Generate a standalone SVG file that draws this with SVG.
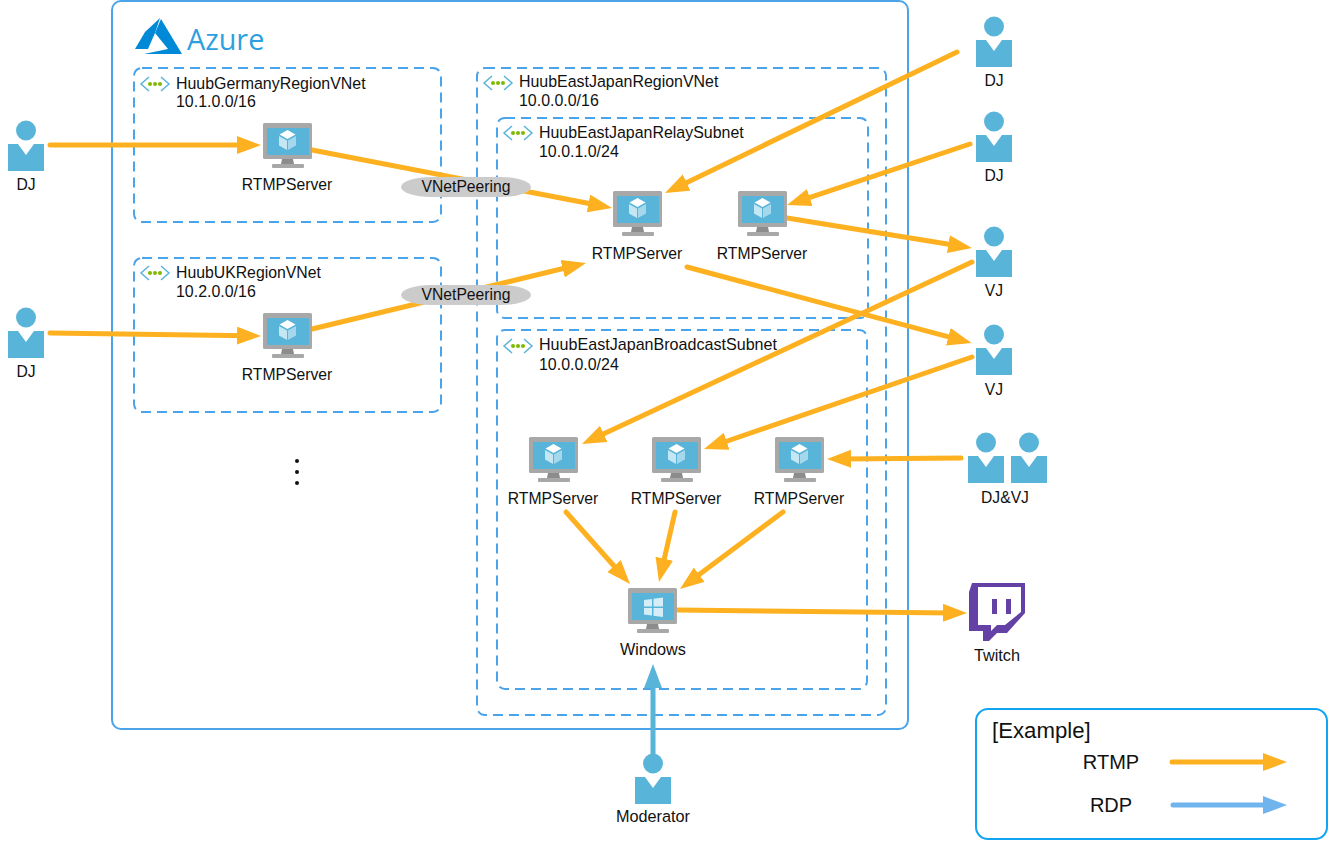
<svg xmlns="http://www.w3.org/2000/svg" width="1328" height="842" viewBox="0 0 1328 842">
<style>
text{font-family:"Liberation Sans",Arial,sans-serif;font-size:15.7px;fill:#111}
.c{text-anchor:middle}
.v{font-size:15.95px}
.w{font-size:16.25px}
.box{fill:none;stroke:#4ba3ea;stroke-width:2}
.dash{fill:none;stroke:#4ba3ea;stroke-width:2;stroke-dasharray:10 6}
.r{fill:none;stroke:#feb120;stroke-width:5;stroke-linecap:round}
.b{fill:none;stroke:#59b4d9;stroke-width:5;stroke-linecap:round}
.peer{fill:#cbcbcb}
</style>
<defs>
<marker id="ao" markerUnits="userSpaceOnUse" markerWidth="26" markerHeight="20" refX="10" refY="9" orient="auto"><path d="M0 0L24 9L0 18Z" fill="#feb120"/></marker>
<marker id="ab" markerUnits="userSpaceOnUse" markerWidth="26" markerHeight="20" refX="10" refY="9" orient="auto"><path d="M0 0L24 9L0 18Z" fill="#59b4d9"/></marker>
<marker id="al" markerUnits="userSpaceOnUse" markerWidth="26" markerHeight="20" refX="10" refY="9" orient="auto"><path d="M0 0L24 9L0 18Z" fill="#70b4ee"/></marker>
<g id="mon">
<rect x="0" y="0" width="49" height="36" rx="1.5" fill="#a8a8a8"/>
<rect x="4" y="5" width="42" height="27" fill="#59b4d9"/>
<path d="M19 36H30L31 41H18Z" fill="#8c8c8c"/>
<rect x="9" y="41" width="32" height="4" rx="1" fill="#a8a8a8"/>
</g>
<g id="cube">
<path d="M24.500 7L32.500 11.500L24.500 16L16.500 11.500Z" fill="#fff"/>
<path d="M16 13L24 17.500V27L16 22.500Z" fill="#c5e6f3"/>
<path d="M33 13L25 17.500V27L33 22.500Z" fill="#a5d8ec"/>
</g>
<g id="vm"><use href="#mon"/><use href="#cube"/></g>
<g id="person">
<circle cx="18" cy="9.500" r="10" fill="#59b4d9"/>
<path d="M0 23H10L18 34L26 23H36V50H0Z" fill="#59b4d9"/>
</g>
<g id="vnet">
<path d="M9 1L1 8L9 15M21 1L29 8L21 15" fill="none" stroke="#59b4d9" stroke-width="1.500"/>
<circle cx="10" cy="8" r="2" fill="#7fba00"/><circle cx="15" cy="8" r="2" fill="#7fba00"/><circle cx="20" cy="8" r="2" fill="#7fba00"/>
</g>
</defs>

<g id="azure">
<rect class="box" x="112" y="1" width="796" height="728" rx="9"/>
<path d="M160 18L145 32L135 49H148L155 33Z" fill="#0089d6"/>
<path d="M161 19L182 54H144L168 49L155 33Z" fill="#0089d6"/>
<text x="187" y="50" style="font-family:'Open Sans',sans-serif;font-size:28.800px;fill:#2d9fe0">Azure</text>
</g>

<g id="vnet-germany">
<rect class="dash" x="134" y="68" width="307" height="154" rx="8"/>
<use href="#vnet" x="140" y="76"/>
<text class="v" x="176" y="89">HuubGermanyRegionVNet</text><text class="v" x="176" y="107">10.1.0.0/16</text>
</g>
<g id="vnet-uk">
<rect class="dash" x="134" y="258" width="307" height="154" rx="8"/>
<use href="#vnet" x="140" y="265"/>
<text x="176" y="278" style="font-size:15.8px">HuubUKRegionVNet</text><text class="v" x="176" y="297">10.2.0.0/16</text>
</g>
<g id="vnet-eastjapan">
<rect class="dash" x="477" y="68" width="409" height="647" rx="8"/>
<use href="#vnet" x="483" y="75"/>
<text class="v" x="519" y="87">HuubEastJapanRegionVNet</text><text class="v" x="519" y="106">10.0.0.0/16</text>
</g>
<g id="subnet-relay">
<rect class="dash" x="497" y="118" width="371" height="200" rx="8"/>
<use href="#vnet" x="503" y="125"/>
<text class="v" x="539" y="138">HuubEastJapanRelaySubnet</text><text class="v" x="539" y="157">10.0.1.0/24</text>
</g>
<g id="subnet-broadcast">
<rect class="dash" x="497" y="330" width="370" height="359" rx="8"/>
<use href="#vnet" x="503" y="338"/>
<text x="539" y="350" style="font-size:16.1px">HuubEastJapanBroadcastSubnet</text><text class="v" x="539" y="370">10.0.0.0/24</text>
</g>

<g id="connectors">
<path class="r" marker-end="url(#ao)" d="M50 145H247"/>
<path class="r" marker-end="url(#ao)" d="M312 150L598.300 205.300"/>
<path class="r" marker-end="url(#ao)" d="M50 333L247 335.800"/>
<path class="r" marker-end="url(#ao)" d="M312 329L572.400 266.300"/>
<path class="r" marker-end="url(#ao)" d="M957 52L677.600 186.900"/>
<path class="r" marker-end="url(#ao)" d="M970 144L800.300 200.600"/>
<path class="r" marker-end="url(#ao)" d="M787 218L958.200 245.800"/>
<path class="r" marker-end="url(#ao)" d="M687 267L958 339.400"/>
<path class="r" marker-end="url(#ao)" d="M972 262L594.700 438.100"/>
<path class="r" marker-end="url(#ao)" d="M972 357L717.200 444.500"/>
<path class="r" marker-end="url(#ao)" d="M961 458L841 458.900"/>
<path class="r" marker-end="url(#ao)" d="M566 512L620.700 573.500"/>
<path class="r" marker-end="url(#ao)" d="M675 512L662.100 568.400"/>
<path class="r" marker-end="url(#ao)" d="M783 512L691.200 580.600"/>
<path class="r" marker-end="url(#ao)" d="M678 610L953 612.900"/>
<path class="b" marker-end="url(#ab)" d="M653 756V678"/>
</g>

<g id="peering-1"><rect class="peer" x="401" y="177" width="130" height="20" rx="30" ry="10"/><text class="c" x="466" y="192">VNetPeering</text></g>
<g id="peering-2"><rect class="peer" x="401" y="285" width="130" height="20" rx="30" ry="10"/><text class="c" x="466" y="300">VNetPeering</text></g>

<g id="dj-1"><use href="#person" x="8" y="121"/><text class="c" x="26" y="190">DJ</text></g>
<g id="dj-2"><use href="#person" x="8" y="308"/><text class="c" x="26" y="377">DJ</text></g>
<g id="dj-3"><use href="#person" x="976" y="17"/><text class="c" x="994" y="86">DJ</text></g>
<g id="dj-4"><use href="#person" x="976" y="112"/><text class="c" x="994" y="181">DJ</text></g>
<g id="vj-1"><use href="#person" x="976" y="227"/><text class="c" x="994" y="296">VJ</text></g>
<g id="vj-2"><use href="#person" x="976" y="325"/><text class="c" x="994" y="395">VJ</text></g>
<g id="djvj"><use href="#person" x="968" y="433"/><use href="#person" x="1011" y="433"/><text class="c" x="1005" y="503">DJ&amp;VJ</text></g>
<g id="moderator"><use href="#person" x="635" y="754"/><text class="c w" x="653" y="822">Moderator</text></g>

<g id="rtmp-germany"><use href="#vm" x="263" y="123"/><text class="c" x="287" y="190">RTMPServer</text></g>
<g id="rtmp-uk"><use href="#vm" x="263" y="313"/><text class="c" x="287" y="380">RTMPServer</text></g>
<g id="rtmp-relay-1"><use href="#vm" x="613" y="191"/><text class="c" x="637" y="259">RTMPServer</text></g>
<g id="rtmp-relay-2"><use href="#vm" x="738" y="191"/><text class="c" x="762" y="259">RTMPServer</text></g>
<g id="rtmp-b1"><use href="#vm" x="529" y="437"/><text class="c" x="553" y="504">RTMPServer</text></g>
<g id="rtmp-b2"><use href="#vm" x="652" y="437"/><text class="c" x="676" y="504">RTMPServer</text></g>
<g id="rtmp-b3"><use href="#vm" x="775" y="437"/><text class="c" x="799" y="504">RTMPServer</text></g>
<g id="windows"><use href="#mon" x="628" y="588"/>
<path d="M644 600L652 599V606.500H644ZM653.500 598.800L663 597.500V606.500H653.500ZM644 608H652V615.500L644 614.500ZM653.500 608H663V617L653.500 615.700Z" fill="#d5edf7"/>
<text class="c w" x="653" y="655">Windows</text></g>

<g id="twitch">
<path d="M972 583H1025V613L1007 633H997L989 641H983V631H969V592Z" fill="#6441a4"/>
<path d="M978 587H1021V612L1005 625H997L991 631V625H978Z" fill="#fff"/>
<rect x="992" y="599" width="5" height="15" fill="#6441a4"/>
<rect x="1006" y="599" width="5" height="15" fill="#6441a4"/>
<text class="c w" x="997" y="661">Twitch</text>
</g>

<g id="ellipsis" fill="#111"><circle cx="297" cy="461" r="2"/><circle cx="297" cy="472" r="2"/><circle cx="297" cy="483" r="2"/></g>

<g id="legend">
<rect x="976" y="709" width="351" height="130" rx="12" fill="none" stroke="#12a4f0" stroke-width="2"/>
<text x="992" y="738" style="font-size:22.200px">[Example]</text>
<text class="c" x="1111" y="769" style="font-size:20px">RTMP</text>
<text class="c" x="1111" y="812" style="font-size:20px">RDP</text>
<path class="r" marker-end="url(#ao)" d="M1172 762H1273"/>
<path class="r" style="stroke:#70b4ee" marker-end="url(#al)" d="M1173 805H1273"/>
</g>
</svg>
